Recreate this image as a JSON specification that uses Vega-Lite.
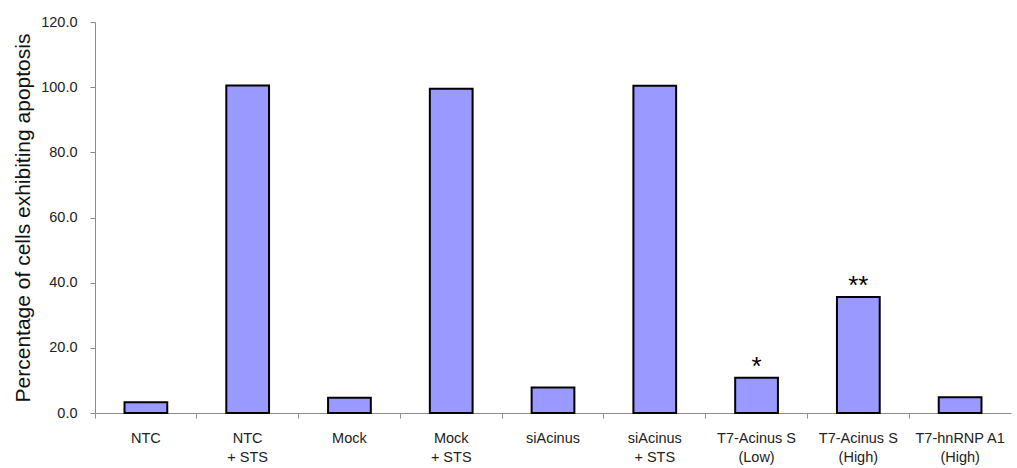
{
  "$schema": "https://vega.github.io/schema/vega-lite/v6.json",
  "width": 916,
  "height": 391,
  "autosize": "none",
  "padding": {"left": 95, "top": 22, "right": 6, "bottom": 55},
  "background": "white",
  "config": {"view": {"stroke": null}, "font": "Liberation Sans"},
  "data": {
    "values": [
      {"group": "NTC", "value": 3.3, "sig": ""},
      {"group": "NTC|+ STS", "value": 100.5, "sig": ""},
      {"group": "Mock", "value": 4.7, "sig": ""},
      {"group": "Mock|+ STS", "value": 99.5, "sig": ""},
      {"group": "siAcinus", "value": 7.8, "sig": ""},
      {"group": "siAcinus|+ STS", "value": 100.4, "sig": ""},
      {"group": "T7-Acinus S|(Low)", "value": 10.8, "sig": "*"},
      {"group": "T7-Acinus S|(High)", "value": 35.6, "sig": "**"},
      {"group": "T7-hnRNP A1|(High)", "value": 4.8, "sig": ""}
    ]
  },
  "encoding": {
    "x": {
      "field": "group",
      "type": "nominal",
      "sort": null,
      "scale": {"paddingInner": 0, "paddingOuter": 0},
      "axis": {
        "title": null,
        "labelAngle": 0,
        "labelExpr": "split(datum.label, '|')",
        "labelFontSize": 14.5,
        "labelColor": "#222222",
        "labelLineHeight": 19,
        "labelPadding": 13,
        "bandPosition": 0,
        "domainColor": "#8c8c8c",
        "tickColor": "#8c8c8c",
        "tickSize": 5,
        "labelBaseline": "top"
      }
    },
    "y": {
      "field": "value",
      "type": "quantitative",
      "scale": {"domain": [0, 120], "nice": false},
      "axis": {
        "title": "Percentage of cells exhibiting apoptosis",
        "titleFontSize": 21,
        "titleFontWeight": "normal",
        "titleColor": "#111111",
        "titlePadding": 7,
        "values": [0, 20, 40, 60, 80, 100, 120],
        "format": ".1f",
        "labelFontSize": 14.5,
        "labelColor": "#222222",
        "labelPadding": 13,
        "grid": false,
        "domainColor": "#8c8c8c",
        "tickColor": "#8c8c8c",
        "tickSize": 5
      }
    }
  },
  "layer": [
    {
      "mark": {"type": "bar", "width": {"band": 0.42}, "fill": "#9999ff", "stroke": "#000000", "strokeWidth": 2}
    },
    {
      "mark": {"type": "text", "baseline": "alphabetic", "dy": -3, "fontSize": 26, "color": "#000000"},
      "encoding": {"text": {"field": "sig"}}
    }
  ]
}
